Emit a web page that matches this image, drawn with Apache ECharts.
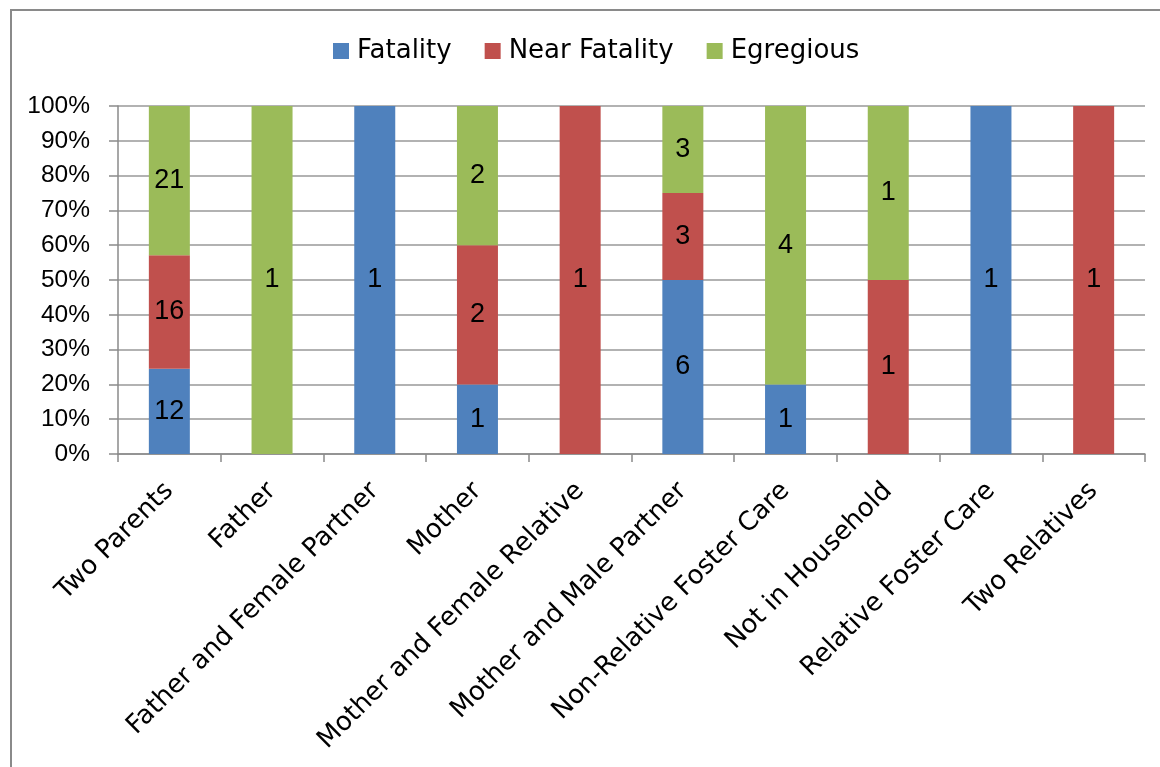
<!DOCTYPE html>
<html>
<head>
<meta charset="utf-8">
<style>
  html, body { margin: 0; padding: 0; background: #fff; }
  #chart { width: 1160px; height: 767px; }
</style>
<script src="https://cdn.jsdelivr.net/npm/echarts@6/dist/echarts.min.js"></script>
</head>
<body>
<div id="chart"></div>
<script>
// Household type of the child, with the number of cases per outcome
const categories = [
  'Two Parents', 'Father', 'Father and Female Partner', 'Mother',
  'Mother and Female Relative', 'Mother and Male Partner',
  'Non-Relative Foster Care', 'Not in Household', 'Relative Foster Care',
  'Two Relatives'
];
const fatality     = [12, 0, 1, 1, 0, 6, 1, 0, 1, 0];
const nearFatality = [16, 0, 0, 2, 1, 3, 0, 1, 0, 1];
const egregious    = [21, 1, 0, 2, 0, 3, 4, 1, 0, 0];
const seriesNames  = ['Fatality', 'Near Fatality', 'Egregious'];
const seriesColors = ['#4F81BD', '#C0504D', '#9BBB59'];

const TEXT_FONT = '"DejaVu Sans", Verdana, sans-serif';
const NUM_FONT = '"Liberation Sans", Arial, sans-serif';
const counts = [fatality, nearFatality, egregious];
const totals = categories.map((_, i) => counts.reduce((s, arr) => s + arr[i], 0));

// Each segment is its share of the category total; the label shows the raw count
const series = counts.map((arr, k) => ({
  name: seriesNames[k],
  type: 'bar',
  stack: 'share',
  barWidth: 41,
  itemStyle: { color: seriesColors[k] },
  data: arr.map((v, i) => (v / totals[i]) * 100),
  label: {
    show: true,
    position: 'inside',
    color: '#000',
    fontFamily: NUM_FONT,
    fontSize: 27,
    formatter: p => (arr[p.dataIndex] > 0 ? String(arr[p.dataIndex]) : '')
  }
}));

const chart = echarts.init(document.getElementById('chart'), null, { renderer: 'canvas' });
chart.setOption({
  animation: false,
  backgroundColor: '#fff',
  textStyle: { fontFamily: TEXT_FONT },
  graphic: [{
    type: 'rect',
    shape: { x: 11, y: 10, width: 1200, height: 800 },
    style: { fill: 'none', stroke: '#8a8a8a', lineWidth: 2 },
    silent: true
  }],
  legend: {
    left: 333,
    top: 36,
    padding: 0,
    itemWidth: 16,
    itemHeight: 16,
    itemGap: 33,
    icon: 'rect',
    textStyle: { fontFamily: TEXT_FONT, fontSize: 26, lineHeight: 30, color: '#000', padding: [0, 0, 0, 3] },
    data: seriesNames
  },
  grid: { left: 118, right: 15, top: 106, bottom: 313, containLabel: false },
  xAxis: {
    type: 'category',
    data: categories,
    boundaryGap: true,
    axisLine: { show: true, lineStyle: { color: '#8a8a8a', width: 1.5 } },
    axisTick: { show: true, length: 8, interval: 0, lineStyle: { color: '#8a8a8a', width: 1.5 } },
    axisLabel: {
      interval: 0,
      rotate: 45,
      margin: 33,
      color: '#000',
      fontFamily: TEXT_FONT,
      fontSize: 26
    }
  },
  yAxis: {
    type: 'value',
    min: 0,
    max: 100,
    interval: 10,
    axisLine: { show: true, lineStyle: { color: '#8a8a8a', width: 1.5 } },
    axisTick: { show: true, length: 9, lineStyle: { color: '#8a8a8a', width: 1.5 } },
    splitLine: { show: true, lineStyle: { color: '#999', width: 1.5 } },
    axisLabel: {
      formatter: '{value}%',
      margin: 28,
      color: '#000',
      fontFamily: NUM_FONT,
      fontSize: 24.5
    }
  },
  series: series
});
</script>
</body>
</html>
